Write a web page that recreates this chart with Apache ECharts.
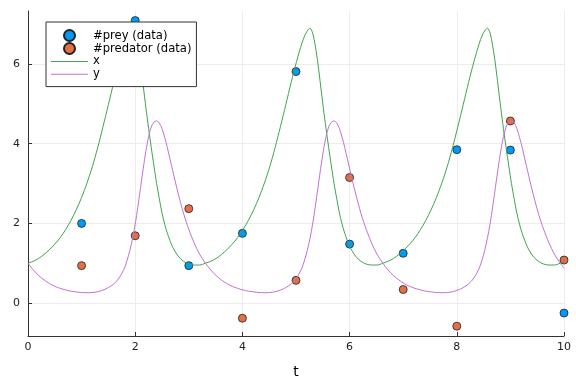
<!DOCTYPE html>
<html>
<head>
<meta charset="utf-8">
<script src="https://cdn.jsdelivr.net/npm/echarts@6/dist/echarts.min.js"></script>
<style>html,body{margin:0;padding:0;background:#fff}#c{width:576px;height:384px}</style>
</head>
<body>
<div id="c"></div>
<script>
// sample times of the noisy observations
const tData = [1, 2, 3, 4, 5, 6, 7, 8, 9, 10];
const preyData = [2.0, 7.09, 0.94, 1.75, 5.81, 1.48, 1.25, 3.85, 3.84, -0.25];
const predatorData = [0.94, 1.69, 2.37, -0.38, 0.57, 3.15, 0.34, -0.58, 4.57, 1.08];

// solution curves
const tCurve = [
  0,0.1,0.2,0.3,0.4,0.5,0.6,0.7,0.8,0.9,1.0,1.1,1.2,1.3,1.4,1.5,1.6,1.7,1.8,
  1.85,1.9,1.95,2.0,2.05,2.1,2.15,2.2,2.25,2.3,2.35,2.4,2.45,2.5,2.55,2.6,
  2.7,2.8,2.9,3.0,3.1,3.2,
  3.31,3.41,3.51,3.61,3.71,3.81,3.91,4.01,4.11,4.21,4.31,4.41,4.51,4.61,4.71,4.81,4.91,5.01,5.11,
  5.16,5.21,5.26,5.31,5.36,5.41,5.46,5.51,5.56,5.61,5.66,5.71,5.76,5.81,5.86,5.91,
  6.01,6.11,6.21,6.31,6.41,6.51,
  6.62,6.72,6.82,6.92,7.02,7.12,7.22,7.32,7.42,7.52,7.62,7.72,7.82,7.92,8.02,8.12,8.22,8.32,8.42,
  8.47,8.52,8.57,8.62,8.67,8.72,8.77,8.82,8.87,8.92,8.97,9.02,9.07,9.12,9.17,9.22,
  9.32,9.42,9.52,9.62,9.72,9.82,
  9.93,10.0
];
const xCurve = [
  1.00,1.05,1.12,1.22,1.34,1.48,1.64,1.84,2.07,2.34,2.65,3.01,3.42,3.90,4.43,4.98,5.54,6.06,6.52,
  6.70,6.83,6.90,6.78,6.45,6.00,5.45,4.90,4.38,3.90,3.44,3.00,2.62,2.26,1.98,1.75,
  1.40,1.18,1.05,0.98,0.955,0.955,
  1.00,1.05,1.12,1.22,1.34,1.48,1.64,1.84,2.07,2.34,2.65,3.01,3.42,3.90,4.43,4.98,5.54,6.06,6.52,
  6.70,6.83,6.90,6.78,6.45,6.00,5.45,4.90,4.38,3.90,3.44,3.00,2.62,2.26,1.98,1.75,
  1.40,1.18,1.05,0.98,0.955,0.955,
  1.00,1.05,1.12,1.22,1.34,1.48,1.64,1.84,2.07,2.34,2.65,3.01,3.42,3.90,4.43,4.98,5.54,6.06,6.52,
  6.70,6.83,6.90,6.78,6.45,6.00,5.45,4.90,4.38,3.90,3.44,3.00,2.62,2.26,1.98,1.75,
  1.40,1.18,1.05,0.98,0.955,0.955,
  1.00,1.035
];
const yCurve = [
  1.00,0.83,0.69,0.58,0.49,0.42,0.37,0.33,0.30,0.28,0.265,0.26,0.265,0.285,0.325,0.39,0.48,0.63,0.88,
  1.08,1.32,1.62,1.98,2.42,2.90,3.38,3.82,4.18,4.42,4.54,4.57,4.52,4.38,4.16,3.90,
  3.32,2.76,2.26,1.85,1.51,1.23,
  1.00,0.83,0.69,0.58,0.49,0.42,0.37,0.33,0.30,0.28,0.265,0.26,0.265,0.285,0.325,0.39,0.48,0.63,0.88,
  1.08,1.32,1.62,1.98,2.42,2.90,3.38,3.82,4.18,4.42,4.54,4.57,4.52,4.38,4.16,3.90,
  3.32,2.76,2.26,1.85,1.51,1.23,
  1.00,0.83,0.69,0.58,0.49,0.42,0.37,0.33,0.30,0.28,0.265,0.26,0.265,0.285,0.325,0.39,0.48,0.63,0.88,
  1.08,1.32,1.62,1.98,2.42,2.90,3.38,3.82,4.18,4.42,4.54,4.57,4.52,4.38,4.16,3.90,
  3.32,2.76,2.26,1.85,1.51,1.23,
  1.00,0.88
];

const xTicks = [0, 2, 4, 6, 8, 10];
const yTicks = [0, 2, 4, 6];
const seriesNames = ['#prey (data)', '#predator (data)', 'x', 'y'];

const FONT = 'DejaVu Sans';
const LINE_ICON = 'path://M0,0 H37 V1 H0 Z';
const zip = (a, b) => a.map((v, i) => [v, b[i]]);

const chart = echarts.init(document.getElementById('c'), null, {renderer: 'canvas'});
chart.setOption({
  animation: false,
  backgroundColor: '#ffffff',
  grid: {left: 28, right: 12, top: 11, bottom: 44, containLabel: false},
  legend: {
    orient: 'vertical',
    left: 46, top: 22,
    z: 50,
    data: [
      {name: seriesNames[0], icon: 'circle'},
      {name: seriesNames[1], icon: 'circle'},
      {name: seriesNames[2], icon: LINE_ICON},
      {name: seriesNames[3], icon: LINE_ICON}
    ],
    itemWidth: 37, itemHeight: 11, itemGap: 0,
    symbolKeepAspect: true,
    padding: [7, 5, 6, 5],
    backgroundColor: '#ffffff',
    borderColor: '#333', borderWidth: 1, borderRadius: 0,
    textStyle: {fontFamily: FONT, fontSize: 11.6, lineHeight: 12.8, color: '#000'}
  },
  xAxis: {
    type: 'value', min: 0, max: 10, interval: 2,
    name: 't', nameLocation: 'middle', nameGap: 29,
    nameTextStyle: {fontFamily: FONT, fontSize: 14, color: '#000'},
    axisLine: {show: true, onZero: false, lineStyle: {color: '#333', width: 1}},
    axisTick: {show: true, inside: true, length: 4, lineStyle: {color: '#333'}},
    axisLabel: {fontFamily: FONT, fontSize: 11, color: '#222', margin: 6,
      customValues: xTicks},
    splitLine: {show: true, lineStyle: {color: '#ececec', width: 1}}
  },
  yAxis: {
    type: 'value', min: -0.826, max: 7.33,
    axisLine: {show: true, onZero: false, lineStyle: {color: '#333', width: 1}},
    axisTick: {show: true, inside: true, length: 4, lineStyle: {color: '#333'}, customValues: yTicks},
    axisLabel: {fontFamily: FONT, fontSize: 11, color: '#222', margin: 8, customValues: yTicks},
    splitLine: {show: true, lineStyle: {color: '#ececec', width: 1}}
  },
  series: [
    {
      name: seriesNames[0], type: 'scatter', data: zip(tData, preyData),
      symbol: 'circle', symbolSize: 8,
      itemStyle: {color: '#009AFA', borderColor: '#222', borderWidth: 0.8, opacity: 1},
      z: 3
    },
    {
      name: seriesNames[1], type: 'scatter', data: zip(tData, predatorData),
      symbol: 'circle', symbolSize: 8,
      itemStyle: {color: '#E36F47', borderColor: '#222', borderWidth: 0.8, opacity: 1},
      z: 3
    },
    {
      name: seriesNames[2], type: 'line', data: zip(tCurve, xCurve),
      symbol: 'none', smooth: 0.3,
      lineStyle: {color: '#3EA44E', width: 1}, itemStyle: {color: '#3EA44E'},
      z: 4
    },
    {
      name: seriesNames[3], type: 'line', data: zip(tCurve, yCurve),
      symbol: 'none', smooth: 0.3,
      lineStyle: {color: '#C271D2', width: 1}, itemStyle: {color: '#C271D2'},
      z: 4
    }
  ]
});
</script>
</body>
</html>
